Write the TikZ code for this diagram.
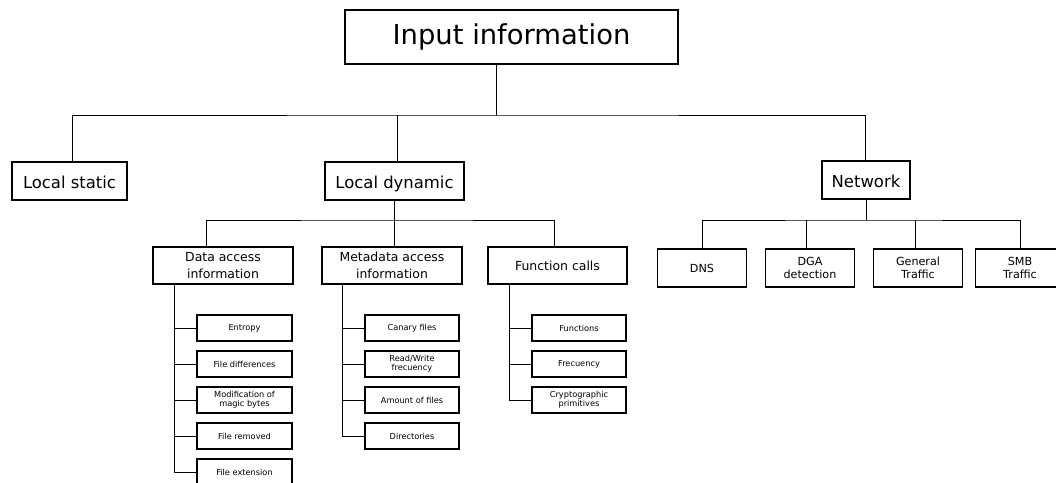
\documentclass[tikz,border=0pt]{standalone}
\usepackage{fontspec}
\setmainfont{DejaVu Sans}
\begin{document}
\begin{tikzpicture}[x=1bp, y=-1bp,
    box/.style={draw, line width=1.7bp, inner sep=0pt, align=center},
    rootbox/.style={box, minimum width=333bp, minimum height=54bp, font=\fontsize{27.5}{30}\selectfont},
    catbox/.style={box, minimum height=38bp, text height=15bp, text depth=0bp, font=\fontsize{16.5}{19}\selectfont},
    subbox/.style={box, minimum width=140bp, minimum height=37bp, font=\fontsize{12.5}{16.5}\selectfont},
    leafbox/.style={box, minimum width=95bp, minimum height=26bp, font=\fontsize{8.25}{9.3}\selectfont},
    protobox/.style={box, minimum width=89bp, minimum height=38bp, font=\fontsize{11.2}{12.7}\selectfont},
    link/.style={line width=0.9bp}
]
\useasboundingbox (0,0) rectangle (1056,483);

% Top level
\node[rootbox] (inp) at (511.5,37) {Input information};
\node[catbox, minimum width=115bp] (ls) at (69.5,181) {Local static};
\node[catbox, minimum width=139bp] (ld) at (394.5,181) {Local dynamic};
\node[catbox, minimum width=88bp] (net) at (866,180) {Network};

\coordinate (j0) at (496,115);
\draw[link] (inp.south -| j0) -- (j0);
\draw[link] ([xshift=2.5bp]ls.north) |- (j0) -| ([xshift=-1bp]net.north);
\draw[link] ([xshift=2.5bp]ld.north) -- ([xshift=2.5bp]ld.north |- j0);

% Local dynamic
\node[subbox] (da) at (223,265.5) {Data access\\information};
\node[subbox] (ma) at (392,265.5) {Metadata access\\information};
\node[subbox, minimum width=139bp] (fc) at (557.5,265.5) {Function calls};

\coordinate (j1) at (394,220);
\draw[link] (ld.south -| j1) -- (ma.north -| j1);
\draw[link] ([xshift=-17bp]da.north) |- (j1) -| ([xshift=-3.5bp]fc.north);

\node[leafbox] (d1) at (244.5,328) {Entropy};
\node[leafbox] (d2) at (244.5,364) {File differences};
\node[leafbox] (d3) at (244.5,400) {Modification of\\magic bytes};
\node[leafbox] (d4) at (244.5,436) {File removed};
\node[leafbox] (d5) at (244.5,472) {File extension};

\node[leafbox, minimum width=94bp] (m1) at (412,328) {Canary files};
\node[leafbox, minimum width=94bp] (m2) at (412,364) {Read/Write\\frecuency};
\node[leafbox, minimum width=94bp] (m3) at (412,400) {Amount of files};
\node[leafbox, minimum width=94bp] (m4) at (412,436) {Directories};

\node[leafbox, minimum width=94bp] (f1) at (579,328) {Functions};
\node[leafbox, minimum width=94bp] (f2) at (579,364) {Frecuency};
\node[leafbox, minimum width=94bp] (f3) at (579,400) {Cryptographic\\primitives};

\draw[link] ([xshift=-49bp]da.south) coordinate (sa) |- (d5.west);
\foreach \i in {1,...,4} \draw[link] (d\i.west) -- (d\i.west -| sa);
\draw[link] ([xshift=-50bp]ma.south) coordinate (sm) |- (m4.west);
\foreach \i in {1,...,3} \draw[link] (m\i.west) -- (m\i.west -| sm);
\draw[link] ([xshift=-48.5bp]fc.south) coordinate (sf) |- (f3.west);
\foreach \i in {1,2} \draw[link] (f\i.west) -- (f\i.west -| sf);

% Network
\node[protobox] (n1) at (702,268) {DNS};
\node[protobox] (n2) at (810,268) {DGA\\detection};
\node[protobox] (n3) at (918,268) {General\\Traffic};
\node[protobox] (n4) at (1020,268) {SMB\\Traffic};

\coordinate (j2) at (866,220);
\draw[link] (net.south) -- (j2);
\draw[link] (n1.north) |- (j2) -| (n4.north);
\draw[link] ([xshift=-4bp]n2.north) -- ([xshift=-4bp]n2.north |- j2);
\draw[link] ([xshift=-3bp]n3.north) -- ([xshift=-3bp]n3.north |- j2);
\end{tikzpicture}
\end{document}
